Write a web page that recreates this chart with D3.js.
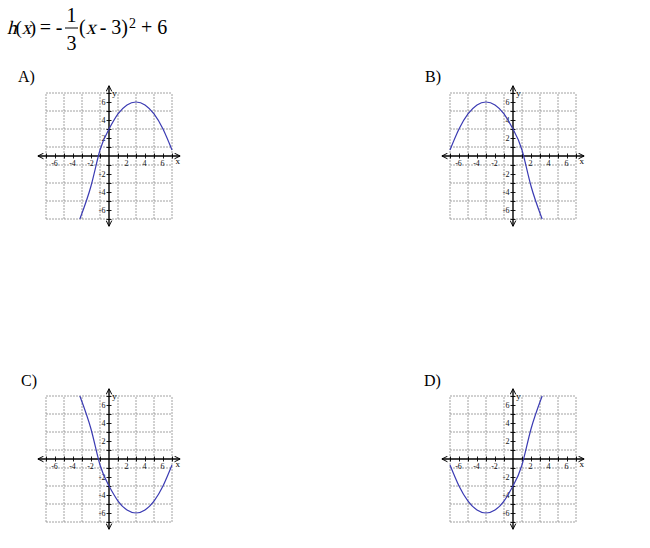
<!DOCTYPE html>
<html>
<head>
<meta charset="utf-8">
<script src="https://cdn.jsdelivr.net/npm/d3@7/dist/d3.min.js"></script>
<style>
  html, body { margin: 0; padding: 0; background: #fff; }
  svg { display: block; }
  text { font-family: "Liberation Serif", "Times New Roman", serif; }
</style>
</head>
<body>
<svg id="chart" width="650" height="548"></svg>
<script>
// answer choices, points
const choiceLabels = ['A)', 'B)', 'C)', 'D)'];
const xsRight = [-3.24, -2, -1, 0, 1, 2, 3, 4, 5, 6, 7];
const xsLeft = [-7, -6, -5, -4, -3, -2, -1, 0, 1, 2, 3.24];
const yA = [-7, -3.33, 0.67, 3, 4.67, 5.67, 6, 5.67, 4.67, 3, 0.67];
const yB = [0.67, 3, 4.67, 5.67, 6, 5.67, 4.67, 3, 0.67, -3.33, -7];
const yC = [7, 3.33, -0.67, -3, -4.67, -5.67, -6, -5.67, -4.67, -3, -0.67];
const yD = [-0.67, -3, -4.67, -5.67, -6, -5.67, -4.67, -3, -0.67, 3.33, 7];
const gridLines = [-7, -5, -3, -1, 1, 3, 5, 7];
const tickValues = [-7, -6, -5, -4, -3, -2, -1, 1, 2, 3, 4, 5, 6, 7];

const panels = [
  { label: choiceLabels[0], lx: 18, ly: 82, cx: 109, cy: 156, xs: xsRight, ys: yA },
  { label: choiceLabels[1], lx: 425, ly: 82, cx: 513, cy: 156, xs: xsLeft, ys: yB },
  { label: choiceLabels[2], lx: 21, ly: 386, cx: 109, cy: 459, xs: xsRight, ys: yC },
  { label: choiceLabels[3], lx: 424, ly: 386, cx: 513, cy: 459, xs: xsLeft, ys: yD },
];

const svg = d3.select('#chart');
const curveColor = '#3b3bb3';

// title: h(x) = - 1/3 (x - 3)^2 + 6
// no serif italic face is installed, so italic letters are slanted by hand
const title = svg.append('g').style('font-size', '20px').attr('fill', '#000');
let cursor = 7;
function piece(str, base, italic, size, tighten = 0) {
  const t = title.append('text')
    .attr('transform', `translate(${cursor},${base})` + (italic ? ' skewX(-14)' : ''))
    .text(str);
  if (size) t.style('font-size', size + 'px');
  cursor += t.node().getComputedTextLength() - tighten;
  return t;
}
piece('h', 34, true, 19, 1);
piece('(', 34, false, 19);
piece('x', 34, true, 19, 1.5);
piece(')', 34, false, 19);
title.append('text').attr('x', 45.5).attr('y', 34).attr('text-anchor', 'middle').text('=');
title.append('text').attr('x', 59).attr('y', 34).attr('text-anchor', 'middle').text('-');
title.append('text').attr('x', 71.5).attr('y', 22).attr('text-anchor', 'middle').text('1');
title.append('line').attr('x1', 65).attr('x2', 78).attr('y1', 28).attr('y2', 28).attr('stroke', '#000').attr('stroke-width', 1);
title.append('text').attr('x', 71.5).attr('y', 50).attr('text-anchor', 'middle').text('3');
cursor = 79;
piece('(', 34, false);
piece('x', 34, true, null, 1);
piece('\u00a0-\u00a03)', 34, false);
cursor += 1;
piece('2', 28, false, 14);
piece('\u00a0+\u00a06', 34, false);

// arrowhead marker
const defs = svg.append('defs');
defs.append('marker').attr('id', 'arrow').attr('viewBox', '0 0 10 10')
  .attr('refX', 9).attr('refY', 5).attr('markerWidth', 7).attr('markerHeight', 7)
  .attr('markerUnits', 'userSpaceOnUse').attr('orient', 'auto-start-reverse')
  .append('path').attr('d', 'M1,1 L9,5 L1,9').attr('fill', 'none').attr('stroke', '#000').attr('stroke-width', 1.4);

const half = 63;

panels.forEach(p => {
  svg.append('text').attr('x', p.lx).attr('y', p.ly).style('font-size', '16px').text(p.label);

  const x = d3.scaleLinear().domain([-7, 7]).range([p.cx - half, p.cx + half]);
  const y = d3.scaleLinear().domain([-7, 7]).range([p.cy + half, p.cy - half]);
  const g = svg.append('g');

  // dashed grid at odd units
  g.selectAll('.vg').data(gridLines).join('line')
    .attr('x1', d => x(d)).attr('x2', d => x(d)).attr('y1', y(-7)).attr('y2', y(7))
    .attr('stroke', '#8a8a8a').attr('stroke-width', 0.8).attr('stroke-dasharray', '2,1');
  g.selectAll('.hg').data(gridLines).join('line')
    .attr('y1', d => y(d)).attr('y2', d => y(d)).attr('x1', x(-7)).attr('x2', x(7))
    .attr('stroke', '#8a8a8a').attr('stroke-width', 0.8).attr('stroke-dasharray', '2,1');

  // axis lines with arrows
  g.append('line').attr('x1', x(-7.9)).attr('x2', x(7.9)).attr('y1', y(0)).attr('y2', y(0))
    .attr('stroke', '#000').attr('stroke-width', 1.4)
    .attr('marker-start', 'url(#arrow)').attr('marker-end', 'url(#arrow)');
  g.append('line').attr('x1', x(0)).attr('x2', x(0)).attr('y1', y(7.8)).attr('y2', y(-7.8))
    .attr('stroke', '#000').attr('stroke-width', 1.4)
    .attr('marker-start', 'url(#arrow)').attr('marker-end', 'url(#arrow)');

  const fmt = d => (d % 2 === 0 ? String(d) : '');

  const xAxis = g.append('g').attr('transform', `translate(0,${y(0) - 2.5})`)
    .call(d3.axisBottom(x).tickValues(tickValues).tickSize(5).tickPadding(1.5).tickFormat(fmt));
  xAxis.select('.domain').remove();
  xAxis.selectAll('line').attr('stroke', '#000').attr('stroke-width', 0.9);
  xAxis.selectAll('text').attr('font-family', null).style('font-size', '8px')
    .attr('fill', '#111').attr('dx', -1);

  const yAxis = g.append('g').attr('transform', `translate(${x(0) + 2.5},0)`)
    .call(d3.axisLeft(y).tickValues(tickValues).tickSize(5).tickPadding(1).tickFormat(fmt));
  yAxis.select('.domain').remove();
  yAxis.selectAll('line').attr('stroke', '#000').attr('stroke-width', 0.9);
  yAxis.selectAll('text').attr('font-family', null).style('font-size', '8px').attr('fill', '#111');

  g.append('text').attr('x', x(7.4)).attr('y', y(0) + 8).style('font-size', '9px').text('x');
  g.append('text').attr('x', x(0.35)).attr('y', y(6.7)).style('font-size', '9px').text('y');

  // curve
  const pts = p.xs.map((d, i) => [d, p.ys[i]]);
  g.append('path').datum(pts)
    .attr('d', d3.line().x(d => x(d[0])).y(d => y(d[1])).curve(d3.curveNatural))
    .attr('fill', 'none').attr('stroke', curveColor).attr('stroke-width', 1.2);
});
</script>
</body>
</html>
